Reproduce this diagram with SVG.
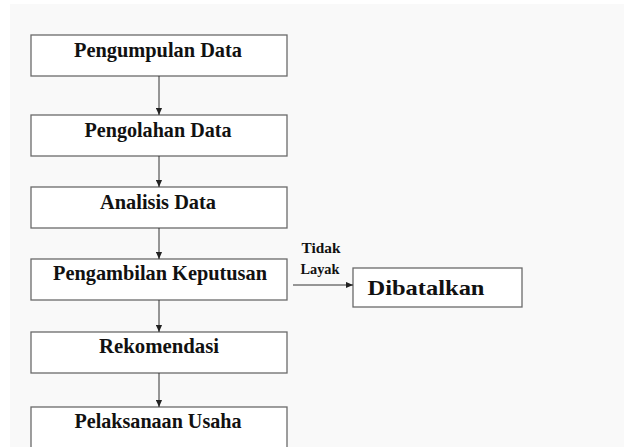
<svg xmlns="http://www.w3.org/2000/svg" width="624" height="447" viewBox="0 0 624 447">
<defs>
<marker id="ah" viewBox="0 0 8 8" refX="8" refY="4" markerWidth="7" markerHeight="7" markerUnits="userSpaceOnUse" orient="auto">
<path d="M0,0.5 L8,4 L0,7.5 Z" fill="#222"/>
</marker>
</defs>
<style>
.box{fill:#ffffff;stroke:#6a6a6a;stroke-width:1.3}
.t{font-family:"Liberation Serif","Times New Roman",serif;font-weight:bold;font-size:21.5px;fill:#111;text-anchor:middle}
.s{font-family:"Liberation Serif","Times New Roman",serif;font-weight:bold;font-size:14px;fill:#111;text-anchor:middle}
.c{stroke:#333;stroke-width:1;fill:none}
</style>
<rect x="0" y="0" width="624" height="447" fill="#ffffff"/>
<rect x="10" y="4" width="614" height="443" fill="#f9f9f9"/>
<g id="n1"><rect class="box" x="31" y="35" width="256" height="41"/><text class="t" x="158" y="57" textLength="168" lengthAdjust="spacingAndGlyphs">Pengumpulan Data</text></g>
<g id="n2"><rect class="box" x="31" y="115" width="256" height="41"/><text class="t" x="158" y="137" textLength="147" lengthAdjust="spacingAndGlyphs">Pengolahan Data</text></g>
<g id="n3"><rect class="box" x="31" y="187" width="256" height="41"/><text class="t" x="158" y="209" textLength="116" lengthAdjust="spacingAndGlyphs">Analisis Data</text></g>
<g id="n4"><rect class="box" x="31" y="259" width="256" height="41"/><text class="t" x="160" y="280" textLength="214" lengthAdjust="spacingAndGlyphs">Pengambilan Keputusan</text></g>
<g id="n5"><rect class="box" x="353" y="268" width="169" height="39"/><text class="t" x="426" y="295" font-size="23" textLength="117" lengthAdjust="spacingAndGlyphs">Dibatalkan</text></g>
<g id="n6"><rect class="box" x="31" y="332" width="256" height="41"/><text class="t" x="159" y="353" textLength="120" lengthAdjust="spacingAndGlyphs">Rekomendasi</text></g>
<g id="n7"><rect class="box" x="31" y="407" width="256" height="42"/><text class="t" x="158" y="428" textLength="167" lengthAdjust="spacingAndGlyphs">Pelaksanaan Usaha</text></g>
<g id="connectors">
<line class="c" x1="159" y1="76" x2="159" y2="115" marker-end="url(#ah)"/>
<line class="c" x1="159" y1="156" x2="159" y2="187" marker-end="url(#ah)"/>
<line class="c" x1="159" y1="228" x2="159" y2="259" marker-end="url(#ah)"/>
<line class="c" x1="159" y1="300" x2="159" y2="332" marker-end="url(#ah)"/>
<line class="c" x1="159" y1="373" x2="159" y2="407" marker-end="url(#ah)"/>
<line class="c" x1="293" y1="285" x2="353" y2="285" marker-end="url(#ah)"/>
<text class="s" x="321" y="253" textLength="39" lengthAdjust="spacingAndGlyphs">Tidak</text>
<text class="s" x="320" y="274" textLength="39" lengthAdjust="spacingAndGlyphs">Layak</text>
</g>
</svg>
